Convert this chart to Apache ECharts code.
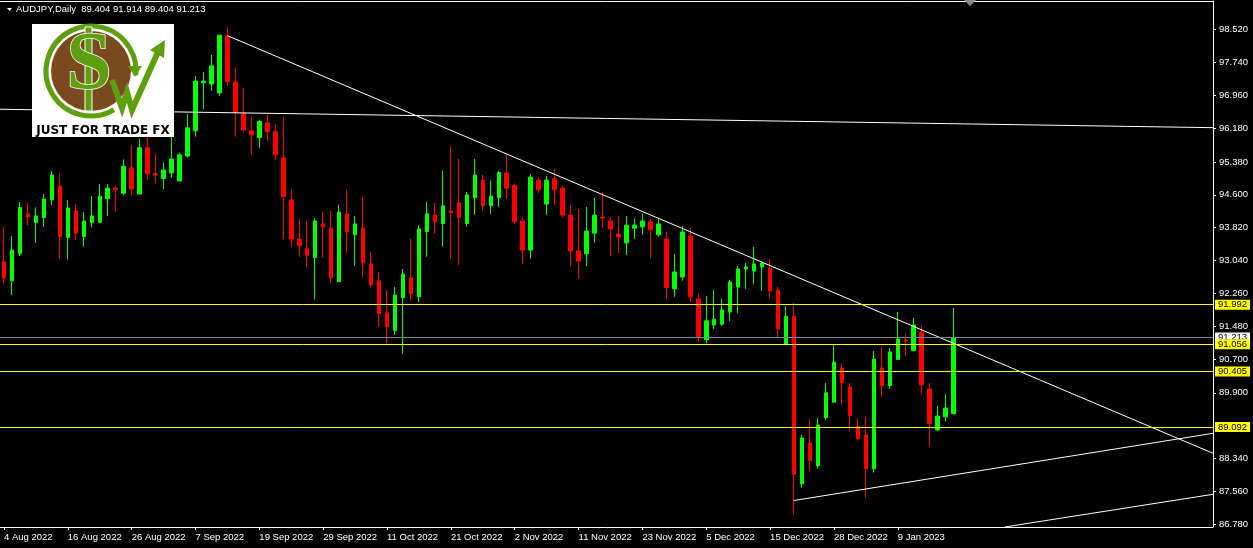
<!DOCTYPE html>
<html><head><meta charset="utf-8">
<script src="https://cdn.jsdelivr.net/npm/echarts@6/dist/echarts.min.js"></script>
<style>html,body{margin:0;padding:0;background:#000;}#c{width:1253px;height:548px;}</style>
</head><body><div id="c"></div>
<script>
const symbolName = 'AUDJPY';
const timeframe = 'Daily';
const dates = [
'4 Aug 2022','5 Aug 2022','8 Aug 2022','9 Aug 2022','10 Aug 2022','11 Aug 2022','12 Aug 2022','15 Aug 2022',
'16 Aug 2022','17 Aug 2022','18 Aug 2022','19 Aug 2022','22 Aug 2022','23 Aug 2022','24 Aug 2022','25 Aug 2022',
'26 Aug 2022','29 Aug 2022','30 Aug 2022','31 Aug 2022','1 Sep 2022','2 Sep 2022','5 Sep 2022','6 Sep 2022',
'7 Sep 2022','8 Sep 2022','9 Sep 2022','12 Sep 2022','13 Sep 2022','14 Sep 2022','15 Sep 2022','16 Sep 2022',
'19 Sep 2022','20 Sep 2022','21 Sep 2022','22 Sep 2022','23 Sep 2022','26 Sep 2022','27 Sep 2022','28 Sep 2022',
'29 Sep 2022','30 Sep 2022','3 Oct 2022','4 Oct 2022','5 Oct 2022','6 Oct 2022','7 Oct 2022','10 Oct 2022',
'11 Oct 2022','12 Oct 2022','13 Oct 2022','14 Oct 2022','17 Oct 2022','18 Oct 2022','19 Oct 2022','20 Oct 2022',
'21 Oct 2022','24 Oct 2022','25 Oct 2022','26 Oct 2022','27 Oct 2022','28 Oct 2022','31 Oct 2022','1 Nov 2022',
'2 Nov 2022','3 Nov 2022','4 Nov 2022','6 Nov 2022','7 Nov 2022','8 Nov 2022','9 Nov 2022','10 Nov 2022',
'11 Nov 2022','14 Nov 2022','15 Nov 2022','16 Nov 2022','17 Nov 2022','18 Nov 2022','21 Nov 2022','22 Nov 2022',
'23 Nov 2022','24 Nov 2022','25 Nov 2022','28 Nov 2022','29 Nov 2022','30 Nov 2022','1 Dec 2022','2 Dec 2022',
'5 Dec 2022','6 Dec 2022','7 Dec 2022','8 Dec 2022','9 Dec 2022','12 Dec 2022','13 Dec 2022','14 Dec 2022',
'15 Dec 2022','16 Dec 2022','19 Dec 2022','20 Dec 2022','21 Dec 2022','22 Dec 2022','23 Dec 2022','27 Dec 2022',
'28 Dec 2022','29 Dec 2022','30 Dec 2022','2 Jan 2023','3 Jan 2023','4 Jan 2023','5 Jan 2023','6 Jan 2023',
'9 Jan 2023','10 Jan 2023','11 Jan 2023','12 Jan 2023','13 Jan 2023','16 Jan 2023','17 Jan 2023','18 Jan 2023'
];
const opens = [
93.01,92.56,93.20,94.15,93.94,94.06,94.48,94.81,93.59,94.22,93.61,93.94,93.95,94.51,94.76,94.64,
95.24,94.62,95.72,95.10,94.99,95.12,94.93,95.52,96.12,97.26,97.23,97.02,98.37,97.28,96.54,96.12,
95.96,96.31,96.10,95.48,94.48,93.55,93.32,93.11,93.91,93.81,92.54,94.15,93.65,93.81,92.96,92.56,
91.80,91.38,92.16,92.63,92.18,93.73,94.12,93.92,94.22,94.41,93.92,94.53,94.95,94.34,94.53,95.12,
94.82,93.98,93.29,94.95,94.38,94.98,94.76,94.12,93.27,93.20,93.69,94.07,93.98,93.67,93.46,93.81,
93.84,93.96,93.65,93.55,92.37,92.65,93.62,92.13,91.16,91.51,91.53,91.82,92.41,92.84,92.79,92.89,
92.86,92.34,91.06,91.72,87.74,88.71,88.17,89.31,89.68,90.49,90.04,89.10,88.90,88.10,90.49,90.07,
90.69,91.15,90.90,91.34,89.99,89.02,89.33,89.404
];
const highs = [
93.83,93.62,94.43,94.41,94.30,94.62,95.17,95.10,94.48,94.38,94.19,94.57,94.86,94.86,94.81,95.44,
95.78,95.93,95.98,95.57,95.37,96.09,95.60,96.52,97.42,97.52,97.92,98.39,98.59,97.62,97.13,96.45,
96.38,96.51,96.28,96.43,94.72,94.03,93.98,94.04,94.20,94.22,94.36,94.72,94.10,94.55,93.24,92.77,
92.34,92.41,92.84,93.56,93.88,94.43,94.41,95.17,95.76,95.45,94.67,95.45,95.07,94.94,95.17,95.56,
94.87,94.07,95.10,95.01,95.05,95.21,94.82,94.36,94.26,94.31,94.53,94.67,94.07,94.10,94.10,94.03,
94.15,94.03,94.04,93.72,93.20,93.86,93.81,92.25,92.20,92.34,92.13,92.58,92.91,92.98,93.36,93.03,
93.08,92.41,91.96,92.03,88.90,89.28,89.30,90.13,91.04,90.59,90.13,89.30,89.33,90.89,90.99,90.97,
91.82,91.30,91.68,91.51,90.13,89.59,89.87,91.914
];
const lows = [
92.50,92.22,93.15,93.88,93.46,93.84,94.36,93.07,93.07,93.53,93.37,93.83,93.94,94.10,94.20,94.60,
94.60,94.62,94.95,94.87,94.74,95.01,94.93,95.48,95.98,96.64,97.07,96.95,97.19,95.98,96.10,95.55,
95.72,95.88,95.43,93.55,93.37,93.13,92.89,92.12,93.11,92.52,92.54,93.21,92.92,92.63,92.40,91.47,
91.07,91.28,90.83,92.09,92.06,93.13,93.68,93.37,93.09,92.94,93.84,94.13,94.22,94.15,94.31,94.50,
93.91,92.96,93.08,94.65,94.12,94.36,94.06,92.91,92.60,92.91,93.46,93.81,93.15,93.22,93.17,93.55,
93.65,93.10,93.61,92.13,92.18,92.56,92.04,91.13,91.08,91.42,91.49,91.61,91.80,92.37,92.48,92.32,
92.13,91.20,91.06,87.00,87.65,88.05,88.10,89.26,89.66,89.62,89.00,88.77,87.41,88.01,89.81,90.00,
90.69,90.78,90.90,89.88,88.62,89.00,89.22,89.404
];
const closes = [
92.62,93.29,94.30,94.08,94.10,94.50,95.07,93.61,94.29,93.69,93.98,94.10,94.57,94.76,94.72,95.28,
94.74,95.72,95.10,95.07,95.19,95.45,95.55,96.19,97.30,97.30,97.66,98.39,97.29,96.56,96.14,96.02,
96.34,96.10,95.55,94.56,93.55,93.39,93.16,93.98,93.84,92.63,94.19,93.73,93.91,92.99,92.47,91.78,
91.47,92.22,92.72,92.25,93.79,94.15,93.96,94.34,94.18,94.06,94.60,95.07,94.34,94.57,95.13,94.76,
93.96,93.29,95.02,94.72,94.95,94.72,94.12,93.27,93.03,93.74,94.12,94.05,93.79,93.60,93.88,93.88,
93.98,93.77,93.91,92.40,92.77,93.72,92.18,91.23,91.61,91.65,91.87,92.53,92.84,92.89,92.96,92.98,
92.32,91.42,91.72,87.97,88.83,88.29,89.14,89.90,90.63,90.14,89.36,88.81,88.10,90.70,90.07,90.87,
91.18,91.13,91.51,90.09,89.17,89.35,89.54,91.213
];
const levels = [91.992, 91.056, 90.405, 89.092];
const priceTicks = [98.52, 97.74, 96.96, 96.18, 95.38, 94.60, 93.82, 93.04, 92.26, 91.48, 90.70, 89.90, 88.34, 87.56, 86.78];
// trend lines: [bar index, price] end points (index on the bar axis incl. chart-shift space)
const trendLines = [
  [[-0.5, 96.632], [151.5, 96.194]],
  [[28, 98.378], [151.5, 88.465]],
  [[99, 87.345], [151.5, 88.940]],
  [[125.4, 86.716], [151.5, 87.492]]
];
const emptyBars = 32;
const labelEvery = 8;

const cats = dates.concat(Array.from({length: emptyBars}, (_, i) => ' '.repeat(i + 1)));
const N = cats.length;
const last = dates.length - 1;
const candles = dates.map((d, i) => [opens[i], closes[i], lows[i], highs[i]]);
const font = '"Liberation Sans", Arial, sans-serif';
const showLabel = (i) => i % labelEvery === 0 && i < dates.length;

const chart = echarts.init(document.getElementById('c'), null, {renderer: 'canvas'});
const titleText = symbolName + ',' + timeframe + '  ' +
  [opens[last], highs[last], lows[last], closes[last]].map(v => v.toFixed(3)).join(' ');

const option = {
  backgroundColor: '#000000',
  animation: false,
  grid: {left: -3, right: 40, top: 1, bottom: 21},
  xAxis: [{
    type: 'category', data: cats, boundaryGap: true,
    axisLine: {show: true, onZero: false, lineStyle: {color: '#ffffff', width: 1}},
    axisTick: {show: true, alignWithLabel: true, length: 3, interval: showLabel, lineStyle: {color: '#ffffff'}},
    axisLabel: {show: true, interval: showLabel, align: 'left', color: '#ffffff', fontSize: 9.5, fontFamily: font, margin: 5},
    splitLine: {show: false}
  }, {
    type: 'value', min: -0.5, max: N - 0.5, position: 'top',
    axisLine: {show: true, onZero: false, lineStyle: {color: '#ffffff', width: 1}},
    axisTick: {show: false}, axisLabel: {show: false}, splitLine: {show: false}
  }],
  yAxis: {
    type: 'value', position: 'right', min: 86.716, max: 99.201,
    axisLine: {show: true, onZero: false, lineStyle: {color: '#ffffff', width: 1}},
    axisTick: {show: true, length: 3, customValues: priceTicks, lineStyle: {color: '#ffffff'}},
    axisLabel: {show: true, customValues: priceTicks, formatter: v => v.toFixed(3), color: '#ffffff', fontSize: 9.5, fontFamily: font, margin: 6},
    splitLine: {show: false}
  },
  series: [
    {
      type: 'candlestick', xAxisIndex: 0, yAxisIndex: 0, data: candles, barWidth: 4, silent: true, z: 2,
      itemStyle: {color: '#00ff00', color0: '#ff0000', borderColor: '#00ff00', borderColor0: '#ff0000', borderWidth: 1},
      markLine: {
        silent: true, symbol: ['none', 'none'], z: 5, precision: 3,
        data: [{
          yAxis: closes[last],
          lineStyle: {color: '#778899', width: 1, type: 'solid'},
          label: {show: true, position: 'end', distance: 2, formatter: p => Number(p.value).toFixed(3),
            color: '#000000', backgroundColor: '#ffffff', padding: [1, 3, 0, 3], fontSize: 9.5, lineHeight: 9, fontFamily: font}
        }].concat(levels.map(v => ({
          yAxis: v,
          lineStyle: {color: '#ffff00', width: 1, type: 'solid'},
          label: {show: true, position: 'end', distance: 2, formatter: p => Number(p.value).toFixed(3),
            color: '#000000', backgroundColor: '#ffff00', padding: [1, 3, 0, 3], fontSize: 9.5, lineHeight: 9, fontFamily: font}
        })))
      }
    }
  ].concat(trendLines.map(t => ({
    type: 'line', xAxisIndex: 1, yAxisIndex: 0, data: t, symbol: 'none', silent: true, z: 3,
    lineStyle: {color: '#ffffff', width: 1}
  }))),
  graphic: [
    {type: 'polygon', shape: {points: [[7, 8], [12, 8], [9.5, 11]]}, style: {fill: '#ffffff'}, z: 20},
    {type: 'text', left: 16, top: 4, style: {text: titleText, fill: '#ffffff', font: '9.5px ' + font}, z: 20},
    {type: 'polygon', shape: {points: [[964, 0], [976, 0], [970, 6]]}, style: {fill: '#8a8a8a'}, z: 20},
    {type: 'group', z: 30, children: [
      {type: 'rect', shape: {x: 32, y: 24, width: 142, height: 113}, style: {fill: '#ffffff'}, z: 30},
      {type: 'circle', shape: {cx: 91, cy: 71, r: 40}, style: {fill: '#7a4a1f'}, z: 31},
      {type: 'arc', shape: {cx: 91, cy: 71, r: 45, startAngle: Math.PI * 0.33, endAngle: Math.PI * 2.03, clockwise: true},
        style: {stroke: '#5e9f10', lineWidth: 5, fill: null}, z: 32},
      {type: 'polygon', shape: {points: [[128, 66], [142, 66], [135, 77]]}, style: {fill: '#5e9f10'}, z: 32},
      {type: 'rect', shape: {x: 85, y: 27, width: 7, height: 84}, style: {fill: '#5e9f10', stroke: '#ffffff', lineWidth: 1}, z: 33},
      {type: 'text', style: {text: 'S', x: 89, y: 67, align: 'center', verticalAlign: 'middle',
        font: 'bold 82px "Liberation Serif", serif', fill: '#5e9f10', stroke: '#ffffff', lineWidth: 1.5}, z: 34},
      {type: 'polyline', shape: {points: [[112, 80], [122, 108], [127, 92], [132, 110], [158, 52]]},
        style: {stroke: '#5e9f10', lineWidth: 6, fill: null, lineJoin: 'miter'}, z: 34},
      {type: 'polygon', shape: {points: [[150, 50], [165, 40], [164, 58]]}, style: {fill: '#5e9f10'}, z: 34},
      {type: 'text', style: {text: 'JUST FOR TRADE FX', x: 103, y: 131, align: 'center', verticalAlign: 'middle',
        font: 'bold 12px "DejaVu Sans", sans-serif', fill: '#000000'}, z: 35}
    ]}
  ]
};
chart.setOption(option);
</script>
</body></html>
